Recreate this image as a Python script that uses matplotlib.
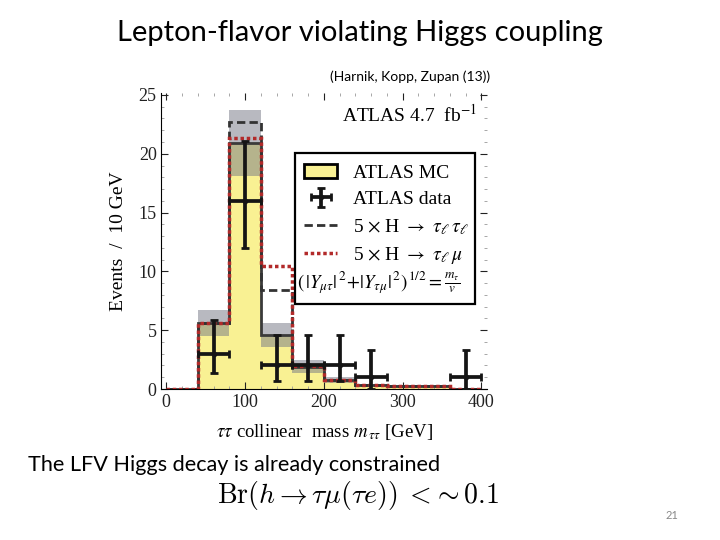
import numpy as np
import matplotlib
matplotlib.use("Agg")
import matplotlib.pyplot as plt
from matplotlib.patches import Patch, Rectangle
from matplotlib.lines import Line2D
from matplotlib.ticker import MultipleLocator

# ---- data ----
edges = [0, 40, 80, 120, 160, 200, 240, 280, 320, 360, 400]
mc = [0, 5.6, 20.9, 4.6, 1.9, 0.8, 0.35, 0.25, 0.25, 0.03]
mc_err = [0, 1.1, 2.8, 1.05, 0.55, 0.25, 0.08, 0.05, 0.05, 0.02]
mc_tautau = [0, 5.6, 22.7, 8.45, 1.95, 0.8, 0.35, 0.25, 0.25, 0.03]
mc_taumu = [0, 5.6, 21.3, 10.5, 1.95, 0.8, 0.35, 0.25, 0.25, 0.03]

data_x = [60, 100, 140, 180, 220, 260, 380]
data_y = [3, 16, 2, 2, 2, 1, 1]
data_lo = [1.6, 4.0, 1.3, 1.3, 1.3, 1.0, 1.0]
data_hi = [2.9, 5.1, 2.6, 2.6, 2.6, 2.3, 2.3]

plt.rcParams['font.family'] = ['Liberation Serif', 'DejaVu Serif']
plt.rcParams['mathtext.fontset'] = 'stix'

fig = plt.figure(figsize=(7.2, 5.4), dpi=100)
ax = fig.add_axes([0.2243, 0.2796, 0.452, 0.5489])

mc = np.array(mc)
mc_err = np.array(mc_err)

ax.stairs(mc, edges, fill=True, color='#f9f193', zorder=1)
ax.stairs(mc + mc_err, edges, baseline=mc - mc_err, fill=True,
          color='#787a86', alpha=0.52, lw=0, zorder=2)
ax.stairs(mc, edges, color='#3a3a3a', lw=2, zorder=3)
ax.stairs(mc_tautau, edges, color='#333333', lw=2, ls=(0, (3, 1.5)), zorder=4)
ax.stairs(mc_taumu, edges, color='#b22a2a', lw=2.5, ls=(0, (1, 0.8)), zorder=5)

eb = ax.errorbar(data_x, data_y, xerr=20, yerr=[data_lo, data_hi], fmt='o', ms=3,
                 color='#151515', elinewidth=2.7, capsize=3, capthick=2, zorder=6)

ax.set_xlim(-6, 407)
ax.set_ylim(0, 25.2)
ax.xaxis.set_major_locator(MultipleLocator(100))
ax.xaxis.set_minor_locator(MultipleLocator(20))
ax.yaxis.set_major_locator(MultipleLocator(5))
ax.yaxis.set_minor_locator(MultipleLocator(1))
ax.spines['top'].set_visible(False)
ax.spines['right'].set_visible(False)
ax.tick_params(which='both', direction='in', top=True, right=True, labelsize=13,
               colors='#222222')
ax.tick_params(which='major', length=5)
ax.tick_params(which='minor', length=2.5, color='#999999')

ax.set_xlabel(r'$\tau\tau$ collinear  mass $m_{\,\tau\tau}$ [GeV]', fontsize=13.5, labelpad=8)
ax.set_ylabel('Events  /  10 GeV', fontsize=14, labelpad=8)

ax.text(0.97, 0.925, r'ATLAS 4.7  fb$^{-1}$', transform=ax.transAxes,
        ha='right', va='center', fontsize=14)

# legend box
ax.add_patch(Rectangle((0.41, 0.287), 0.553, 0.509, transform=ax.transAxes,
                       fill=True, facecolor='white', edgecolor='black', lw=1.6, zorder=7))
handles = [Patch(facecolor='#f9f193', edgecolor='black', lw=2),
           eb,
           Line2D([], [], color='#333333', lw=2, ls=(0, (3, 1.5))),
           Line2D([], [], color='#b22a2a', lw=2.5, ls=(0, (1, 0.8)))]
labels = ['ATLAS MC', 'ATLAS data',
          r'5 $\times$ H $\rightarrow$ $\tau_\ell\,\tau_\ell$',
          r'5 $\times$ H $\rightarrow$ $\tau_\ell\,\mu$']
leg = ax.legend(handles, labels, loc='upper left', bbox_to_anchor=(0.415, 0.785),
                frameon=False, fontsize=14, handlelength=1.7, handletextpad=0.8,
                labelspacing=0.45, borderaxespad=0)
leg.set_zorder(8)
ax.text(0.417, 0.36, r'$(\,|Y_{\mu\tau}|^{\,2}\!+\!|Y_{\tau\mu}|^{\,2})^{\,1/2} = \frac{m_\tau}{v}$',
        transform=ax.transAxes, fontsize=13.5, va='center', ha='left', zorder=9)

# slide text
fig.text(0.5, 0.938, 'Lepton-flavor violating Higgs coupling', ha='center', va='center',
         fontsize=21, family=['Lato', 'DejaVu Sans'])
fig.text(0.458, 0.857, '(Harnik, Kopp, Zupan (13))', ha='left', va='center',
         fontsize=10, family=['Lato', 'DejaVu Sans'])
fig.text(0.039, 0.139, 'The LFV Higgs decay is already constrained', ha='left', va='center',
         fontsize=15.6, family=['Lato', 'DejaVu Sans'])
fig.text(0.302, 0.082, r'$\mathrm{Br}(h \rightarrow \tau\mu(\tau e))\; < \!\sim 0.1$',
         ha='left', va='center', fontsize=20, math_fontfamily='cm')
fig.text(0.925, 0.046, '21', ha='left', va='center', fontsize=8, color='#888888',
         family=['Lato', 'DejaVu Sans'])

fig.savefig('out.png', dpi=100)
